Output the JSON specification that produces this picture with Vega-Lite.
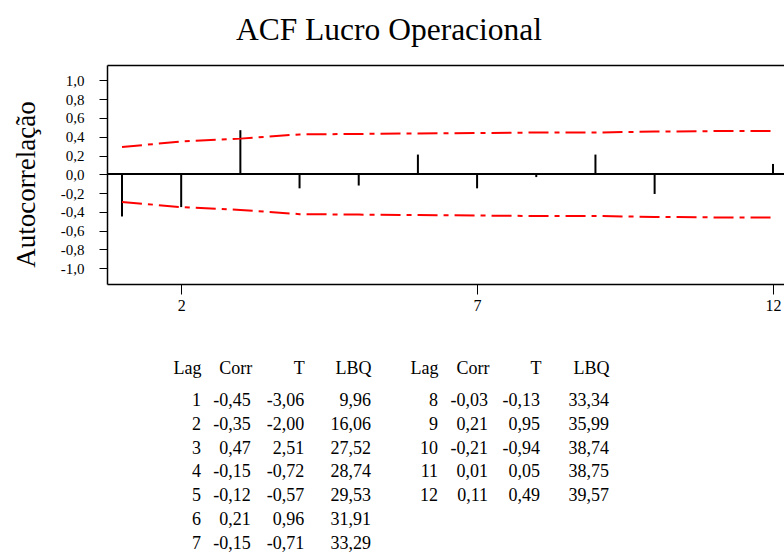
{
  "$schema": "https://vega.github.io/schema/vega-lite/v6.json",
  "background": "white",
  "padding": {"left": 12, "top": 14, "right": 0, "bottom": 0},
  "autosize": {"type": "pad"},
  "title": {"text": "ACF Lucro Operacional", "font": "Liberation Serif, Times New Roman, serif", "fontSize": 31.5, "fontWeight": "normal", "color": "black", "anchor": "middle", "offset": 19, "dx": -10},
  "config": {
    "locale": {"number": {"decimal": ",", "thousands": ".", "grouping": [3], "currency": ["R$", ""], "minus": "-"}},
    "font": "Liberation Serif, Times New Roman, serif",
    "view": {"stroke": null},
    "title": {"font": "Liberation Serif, Times New Roman, serif"},
    "axis": {"labelFont": "Liberation Serif, Times New Roman, serif", "titleFont": "Liberation Serif, Times New Roman, serif", "labelColor": "black", "titleColor": "black", "domainColor": "black", "tickColor": "black", "grid": false, "titleFontWeight": "normal", "labelOverlap": false},
    "axisY": {"labelOverlap": false},
    "text": {"font": "Liberation Serif, Times New Roman, serif", "color": "black"}
  },
  "datasets": {
    "acf": [
      {"lag": 1, "corr": -0.45, "t": -3.06, "lbq": 9.96, "upper": 0.29, "lower": -0.295},
      {"lag": 2, "corr": -0.35, "t": -2.00, "lbq": 16.06, "upper": 0.35, "lower": -0.35},
      {"lag": 3, "corr": 0.47, "t": 2.51, "lbq": 27.52, "upper": 0.38, "lower": -0.38},
      {"lag": 4, "corr": -0.15, "t": -0.72, "lbq": 28.74, "upper": 0.425, "lower": -0.425},
      {"lag": 5, "corr": -0.12, "t": -0.57, "lbq": 29.53, "upper": 0.43, "lower": -0.43},
      {"lag": 6, "corr": 0.21, "t": 0.96, "lbq": 31.91, "upper": 0.435, "lower": -0.435},
      {"lag": 7, "corr": -0.15, "t": -0.71, "lbq": 33.29, "upper": 0.44, "lower": -0.44},
      {"lag": 8, "corr": -0.03, "t": -0.13, "lbq": 33.34, "upper": 0.445, "lower": -0.445},
      {"lag": 9, "corr": 0.21, "t": 0.95, "lbq": 35.99, "upper": 0.445, "lower": -0.445},
      {"lag": 10, "corr": -0.21, "t": -0.94, "lbq": 38.74, "upper": 0.455, "lower": -0.455},
      {"lag": 11, "corr": 0.01, "t": 0.05, "lbq": 38.75, "upper": 0.46, "lower": -0.46},
      {"lag": 12, "corr": 0.11, "t": 0.49, "lbq": 39.57, "upper": 0.46, "lower": -0.46}
    ]
  },
  "spacing": 46,
  "vconcat": [
    {
      "width": 678,
      "height": 219,
      "data": {"name": "acf"},
      "layer": [
        {
          "mark": {"type": "rule", "color": "black", "strokeWidth": 1.5},
          "encoding": {
            "y": {"datum": 0, "type": "quantitative", "title": "Autocorrelação",
              "scale": {"domain": [-1.17, 1.165], "nice": false, "zero": false},
              "axis": {"orient": "left", "title": "Autocorrelação", "titleFontSize": 27, "titlePadding": 20, "titleY": 119,
                "values": [-1, -0.8, -0.6, -0.4, -0.2, 0, 0.2, 0.4, 0.6, 0.8, 1], "format": ".1f", "labelOverlap": false,
                "labelFontSize": 15, "tickSize": 8, "labelPadding": 15, "domainWidth": 1.5, "tickWidth": 1}}
          }
        },
        {
          "mark": {"type": "rule", "color": "black", "strokeWidth": 2},
          "encoding": {
            "x": {"field": "lag", "type": "quantitative",
              "scale": {"domain": [0.7465, 12.203], "nice": false, "zero": false},
              "axis": {"orient": "bottom", "values": [2, 7, 12], "format": "d", "title": null, "labelFontSize": 16, "tickSize": 10, "labelPadding": 3, "domainWidth": 1.5, "tickWidth": 1, "labelOverlap": false}},
            "y": {"field": "corr", "type": "quantitative", "title": "Autocorrelação", "scale": {"domain": [-1.17, 1.165], "nice": false, "zero": false},
              "axis": {"orient": "left", "title": "Autocorrelação", "titleFontSize": 27, "titlePadding": 20, "titleY": 119,
                "values": [-1, -0.8, -0.6, -0.4, -0.2, 0, 0.2, 0.4, 0.6, 0.8, 1], "format": ".1f", "labelOverlap": false,
                "labelFontSize": 15, "tickSize": 8, "labelPadding": 15, "domainWidth": 1.5, "tickWidth": 1}},
            "y2": {"datum": 0}
          }
        },
        {
          "mark": {"type": "line", "color": "#ff0000", "strokeWidth": 2, "strokeDash": [20, 6, 5, 6]},
          "encoding": {
            "x": {"field": "lag", "type": "quantitative", "scale": {"domain": [0.7465, 12.203], "nice": false, "zero": false},
              "axis": {"orient": "top", "labels": false, "ticks": false, "title": null, "domainWidth": 1.5}},
            "y": {"field": "upper", "type": "quantitative", "title": "Autocorrelação", "scale": {"domain": [-1.17, 1.165], "nice": false, "zero": false},
              "axis": {"orient": "left", "title": "Autocorrelação", "titleFontSize": 27, "titlePadding": 20, "titleY": 119,
                "values": [-1, -0.8, -0.6, -0.4, -0.2, 0, 0.2, 0.4, 0.6, 0.8, 1], "format": ".1f", "labelOverlap": false,
                "labelFontSize": 15, "tickSize": 8, "labelPadding": 15, "domainWidth": 1.5, "tickWidth": 1}}
          }
        },
        {
          "mark": {"type": "line", "color": "#ff0000", "strokeWidth": 2, "strokeDash": [20, 6, 5, 6]},
          "encoding": {
            "x": {"field": "lag", "type": "quantitative", "scale": {"domain": [0.7465, 12.203], "nice": false, "zero": false}, "axis": null},
            "y": {"field": "lower", "type": "quantitative", "title": "Autocorrelação", "scale": {"domain": [-1.17, 1.165], "nice": false, "zero": false},
              "axis": {"orient": "left", "title": "Autocorrelação", "titleFontSize": 27, "titlePadding": 20, "titleY": 119,
                "values": [-1, -0.8, -0.6, -0.4, -0.2, 0, 0.2, 0.4, 0.6, 0.8, 1], "format": ".1f", "labelOverlap": false,
                "labelFontSize": 15, "tickSize": 8, "labelPadding": 15, "domainWidth": 1.5, "tickWidth": 1}}
          }
        }
      ],
      "resolve": {"axis": {"x": "independent"}}
    },
    {
      "spacing": 0,
      "hconcat": [
        {
          "width": 264,
          "height": 142.8,
          "data": {"name": "acf"},
          "transform": [{"filter": "datum.lag <= 7"}],
          "encoding": {"y": {"field": "lag", "type": "ordinal", "scale": {"type": "point", "padding": 0}, "axis": null}},
          "layer": [
            {
              "mark": {"type": "text", "align": "right", "baseline": "middle", "fontSize": 18},
              "encoding": {
                "x": {"datum": "Lag", "type": "nominal",
                  "scale": {"type": "point", "domain": ["Lag", "Corr", "T", "LBQ"], "padding": 0.829, "align": 1},
                  "axis": {"orient": "top", "title": null, "ticks": false, "tickSize": 0, "domain": false, "labelFontSize": 18, "labelAlign": "right", "labelBaseline": "alphabetic", "labelPadding": 28, "labelAngle": 0,
                    "labelOffset": {"condition": [{"test": "datum.value === 'Corr'", "value": -6}, {"test": "datum.value === 'T'", "value": -10}], "value": 0}}},
                "text": {"field": "lag", "type": "quantitative", "format": "d"}
              }
            },
            {
              "mark": {"type": "text", "align": "right", "baseline": "middle", "fontSize": 18, "dx": -7},
              "encoding": {"x": {"datum": "Corr", "type": "nominal"}, "text": {"field": "corr", "type": "quantitative", "format": ".2f"}}
            },
            {
              "mark": {"type": "text", "align": "right", "baseline": "middle", "fontSize": 18, "dx": -10},
              "encoding": {"x": {"datum": "T", "type": "nominal"}, "text": {"field": "t", "type": "quantitative", "format": ".2f"}}
            },
            {
              "mark": {"type": "text", "align": "right", "baseline": "middle", "fontSize": 18},
              "encoding": {"x": {"datum": "LBQ", "type": "nominal"}, "text": {"field": "lbq", "type": "quantitative", "format": ".2f"}}
            }
          ]
        },
        {
          "width": 238,
          "height": 95.2,
          "data": {"name": "acf"},
          "transform": [{"filter": "datum.lag >= 8"}],
          "encoding": {"y": {"field": "lag", "type": "ordinal", "scale": {"type": "point", "padding": 0}, "axis": null}},
          "layer": [
            {
              "mark": {"type": "text", "align": "right", "baseline": "middle", "fontSize": 18},
              "encoding": {
                "x": {"datum": "Lag", "type": "nominal",
                  "scale": {"type": "point", "domain": ["Lag", "Corr", "T", "LBQ"], "padding": 0.5877, "align": 1},
                  "axis": {"orient": "top", "title": null, "ticks": false, "tickSize": 0, "domain": false, "labelFontSize": 18, "labelAlign": "right", "labelBaseline": "alphabetic", "labelPadding": 28, "labelAngle": 0,
                    "labelOffset": {"condition": [{"test": "datum.value === 'Corr'", "value": -6}, {"test": "datum.value === 'T'", "value": -11}], "value": 0}}},
                "text": {"field": "lag", "type": "quantitative", "format": "d"}
              }
            },
            {
              "mark": {"type": "text", "align": "right", "baseline": "middle", "fontSize": 18, "dx": -7},
              "encoding": {"x": {"datum": "Corr", "type": "nominal"}, "text": {"field": "corr", "type": "quantitative", "format": ".2f"}}
            },
            {
              "mark": {"type": "text", "align": "right", "baseline": "middle", "fontSize": 18, "dx": -12},
              "encoding": {"x": {"datum": "T", "type": "nominal"}, "text": {"field": "t", "type": "quantitative", "format": ".2f"}}
            },
            {
              "mark": {"type": "text", "align": "right", "baseline": "middle", "fontSize": 18},
              "encoding": {"x": {"datum": "LBQ", "type": "nominal"}, "text": {"field": "lbq", "type": "quantitative", "format": ".2f"}}
            }
          ]
        }
      ]
    }
  ]
}
